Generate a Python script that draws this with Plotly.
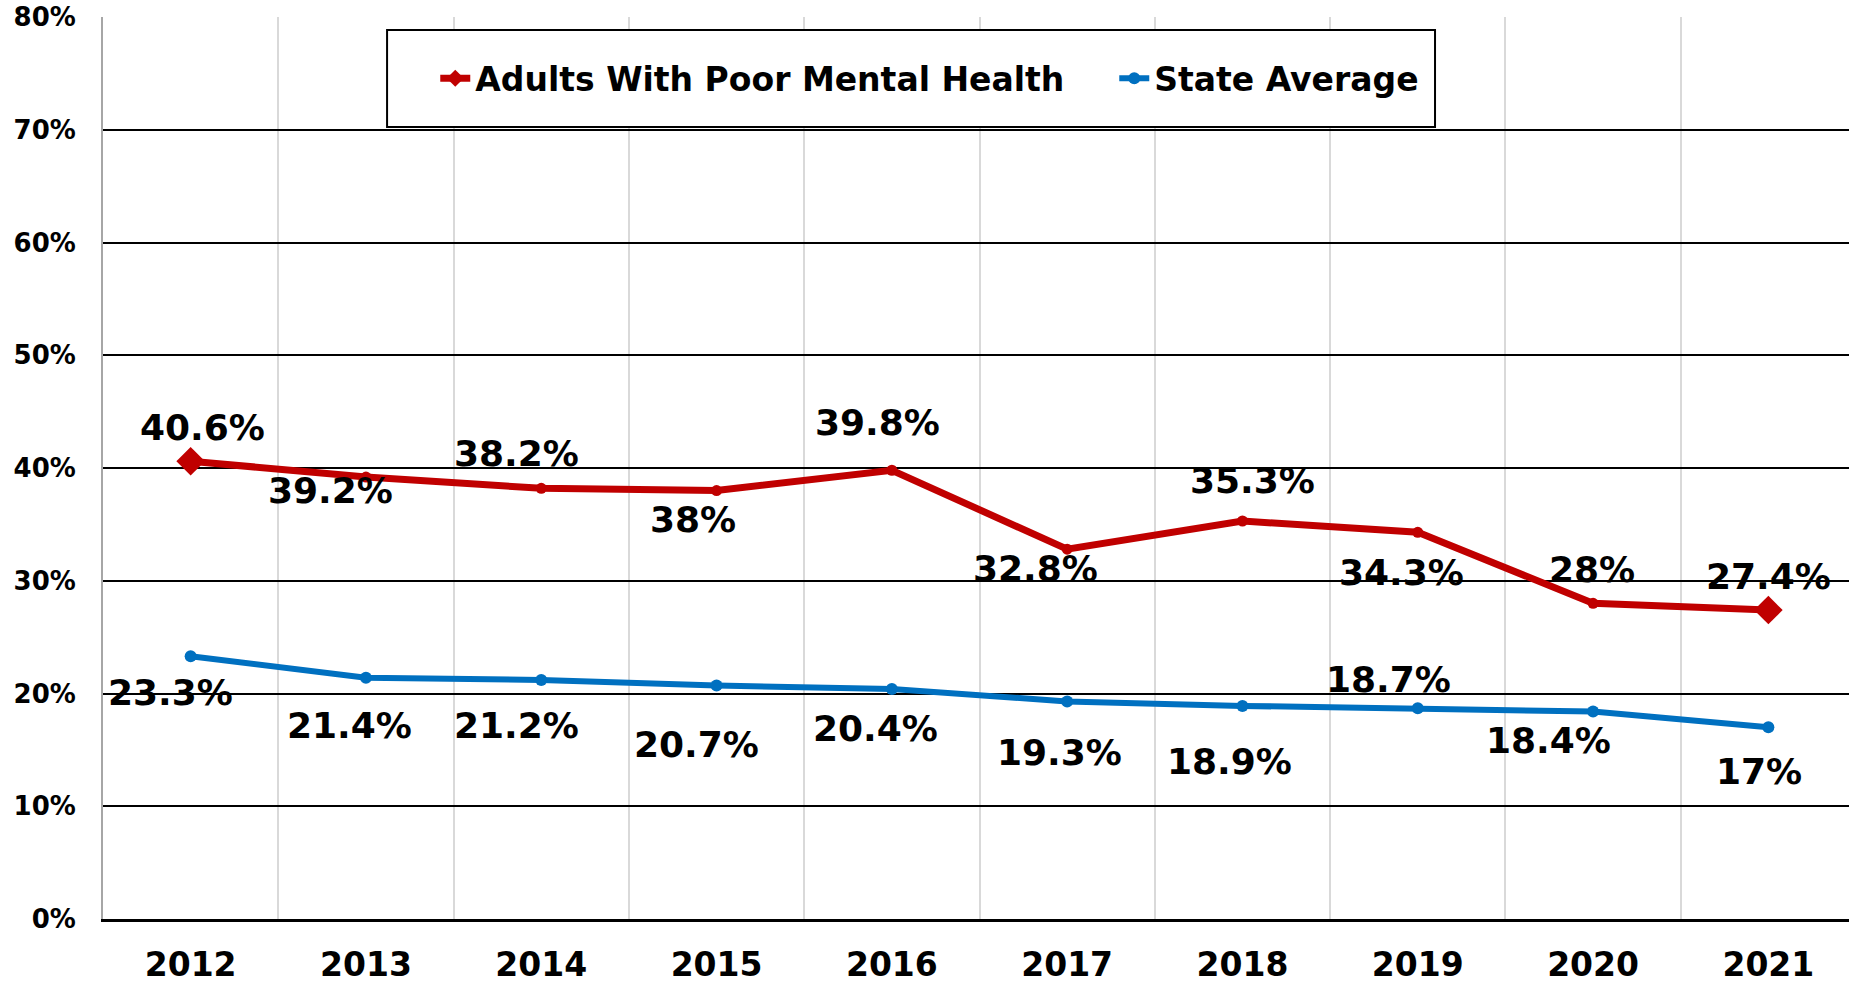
import plotly.graph_objects as go

years = ["2012", "2013", "2014", "2015", "2016", "2017", "2018", "2019", "2020", "2021"]
poor_mental = [40.6, 39.2, 38.2, 38.0, 39.8, 32.8, 35.3, 34.3, 28.0, 27.4]
state_avg = [23.3, 21.4, 21.2, 20.7, 20.4, 19.3, 18.9, 18.7, 18.4, 17.0]
y_ticks = [0, 10, 20, 30, 40, 50, 60, 70, 80]

RED = "#C00000"
BLUE = "#0070C0"
FONT = "DejaVu Sans"

# label offsets in px (dx right, dy down) so labels sit like the original
red_dx = [12, -35, -25, -24, -14, -32, 10, -16, -1, 0]
red_dy = [-34, 13, -35, 29, -48, 19, -40, 40, -34, -34]
blue_dx = [-20, -16, -25, -20, -16, -8, -13, -29, -45, -9]
blue_dy = [36, 48, 46, 59, 40, 51, 56, -29, 29, 44]

fig = go.Figure()

fig.add_trace(go.Scatter(
    x=years, y=poor_mental, name="Adults With Poor Mental Health",
    mode="lines+markers",
    line=dict(color=RED, width=7),
    marker=dict(color=RED, opacity=1, line=dict(width=0),
                symbol=["diamond"] + ["circle"] * 8 + ["diamond"],
                size=[22] + [11] * 8 + [22]),
))
fig.add_trace(go.Scatter(
    x=years, y=state_avg, name="State Average",
    mode="lines+markers",
    line=dict(color=BLUE, width=6),
    marker=dict(color=BLUE, opacity=1, line=dict(width=0), symbol="circle", size=12),
))

annotations = []
for vals, dxs, dys in [(poor_mental, red_dx, red_dy), (state_avg, blue_dx, blue_dy)]:
    for i, (v, dx, dy) in enumerate(zip(vals, dxs, dys)):
        annotations.append(dict(
            x=i, y=v, xref="x", yref="y",
            text=f"{v:g}%", showarrow=False,
            xshift=dx, yshift=-dy,
            font=dict(family=FONT, size=36, color="black", weight="bold"),
        ))

fig.update_layout(
    width=1849, height=987,
    margin=dict(l=103, r=0, t=17, b=68, autoexpand=False),
    paper_bgcolor="white", plot_bgcolor="white",
    font=dict(family=FONT, color="black", weight="bold"),
    showlegend=True,
    legend=dict(
        orientation="h", x=0.1903, y=0.932, xanchor="left", yanchor="middle",
        bgcolor="rgba(0,0,0,0)", borderwidth=0,
        font=dict(family=FONT, size=33, color="black", weight="bold"),
        entrywidth=634,
    ),
    shapes=[dict(type="rect", xref="paper", yref="paper",
                 x0=0.1627, x1=0.7629, y0=0.878, y1=0.9856,
                 fillcolor="white", line=dict(color="black", width=2),
                 layer="above")],
    annotations=annotations,
)

fig.update_xaxes(
    type="category", categoryorder="array", categoryarray=years,
    range=[-0.5, 9.46], tickson="boundaries", automargin=False,
    showgrid=True, gridcolor="#D9D9D9", gridwidth=1.5,
    ticks="", showline=True, linecolor="black", linewidth=2.5,
    tickfont=dict(family=FONT, size=33, color="black", weight="bold"),
    ticklabelstandoff=15, ticklabeloverflow="allow",
)
fig.update_yaxes(
    range=[0, 80], tickvals=y_ticks, ticktext=[f"{t}%" for t in y_ticks],
    automargin=False,
    showgrid=True, gridcolor="black", gridwidth=1.5,
    zeroline=False, showline=True, linecolor="#A6A6A6", linewidth=2,
    ticks="", tickfont=dict(family=FONT, size=26, color="black", weight="bold"),
    ticklabelstandoff=20, ticklabeloverflow="allow",
)

fig.write_html("out.html", config={"displayModeBar": False},
               post_script="document.body.style.margin='0';document.body.style.overflow='hidden';")
